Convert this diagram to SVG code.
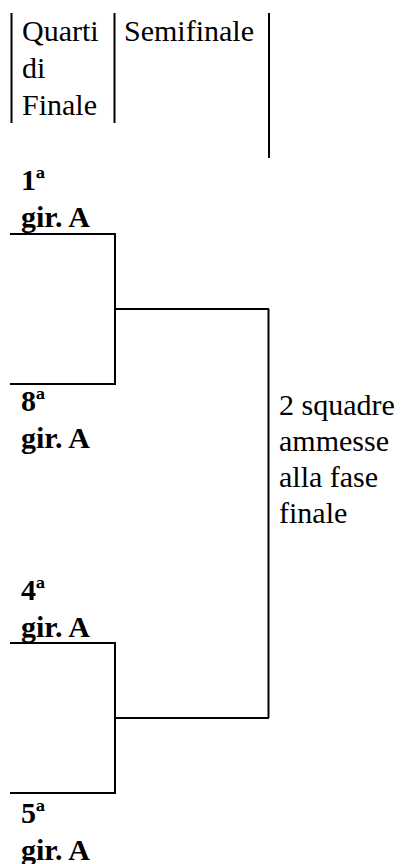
<svg xmlns="http://www.w3.org/2000/svg" width="403" height="864" viewBox="0 0 403 864">
<style>
  text { font-family: 'Liberation Serif', Tinos, 'Times New Roman', Times, 'Nimbus Roman', 'DejaVu Serif', serif; font-size: 30px; fill: #000; }
  .b { font-weight: bold; }
  .ln { stroke: #000; stroke-width: 2; fill: none; }
</style>
<rect width="403" height="864" fill="#fff"/>
<g id="header">
  <line class="ln" x1="11.5" y1="13" x2="11.5" y2="123"/>
  <line class="ln" x1="114.5" y1="13" x2="114.5" y2="123"/>
  <line class="ln" x1="269" y1="13" x2="269" y2="158"/>
  <text x="22" y="41">Quarti</text>
  <text x="22" y="78">di</text>
  <text x="22" y="115">Finale</text>
  <text x="124" y="41">Semifinale</text>
</g>
<g id="team1"><text class="b" x="21" y="190">1ª</text><text class="b" x="21" y="227">gir. A</text></g>
<g id="team8"><text class="b" x="21" y="411">8ª</text><text class="b" x="21" y="448">gir. A</text></g>
<g id="team4"><text class="b" x="21" y="600">4ª</text><text class="b" x="21" y="637">gir. A</text></g>
<g id="team5"><text class="b" x="21" y="823">5ª</text><text class="b" x="21" y="860">gir. A</text></g>
<g id="result">
  <text x="279" y="415">2 squadre</text>
  <text x="279" y="451">ammesse</text>
  <text x="279" y="487">alla fase</text>
  <text x="279" y="523">finale</text>
</g>
<g id="connectors">
  <polyline class="ln" points="10,234 115,234 115,384 10,384"/>
  <polyline class="ln" points="10,643 115,643 115,793 10,793"/>
  <line class="ln" x1="115" y1="309" x2="269" y2="309"/>
  <line class="ln" x1="115" y1="718" x2="269" y2="718"/>
  <line class="ln" x1="268.5" y1="309" x2="268.5" y2="718"/>
</g>
</svg>
